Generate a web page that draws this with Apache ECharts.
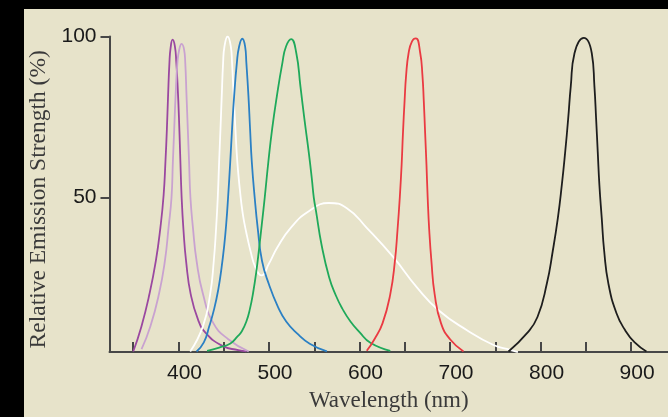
<!DOCTYPE html>
<html><head><meta charset="utf-8">
<script src="https://cdn.jsdelivr.net/npm/echarts@6/dist/echarts.min.js"></script>
<style>html,body{margin:0;padding:0;background:#000;}#c{width:668px;height:417px;}</style>
</head><body><div id="c"></div>
<script>
// Wavelength (nm), relative strength (%)
const darkPurple = [[350,2.2],[359,9.9],[368,20.1],[375,30.3],[380,40.6],[383.6,50.8],[385.6,61.1],[387.2,71.3],[388.5,81.5],[390,91.8],[391.3,96.5],[393.5,99],[396,97],[397.6,92],[399,85],[400.5,75],[401.8,64],[403.5,50],[405.5,40],[408.5,30],[413.5,20],[421.7,12],[430,8],[448,4],[466,2.6],[475,2.2]];
const lightPurple = [[359.2,2.9],[369,10],[378.5,20.1],[385,30.3],[389,40.6],[392.3,50],[393.8,61],[395.3,71.3],[396.8,81.5],[398.8,91.8],[400.8,95.9],[403.5,97.7],[406.2,95.9],[407.5,91.8],[408.9,81.5],[410.3,71.3],[411.7,61.1],[413.2,50],[416,40.6],[420,30.3],[427,20.1],[438.5,11],[455,6],[477.6,2.2]];
const whiteLed = [[413,2.2],[427,10],[435,20],[439,30.3],[441.6,40.6],[443.4,50],[444.9,61],[446.4,71.3],[447.8,81.5],[449.3,91.8],[450.8,96.9],[454.3,100],[457.8,96.9],[459.2,91.8],[461,81.5],[462.9,71.3],[465,61.1],[467.8,52.5],[471,45],[475,39],[479.5,33.5],[485,28.3],[491.8,25.8],[500,29.5],[509,34.4],[524,40.6],[544,45.7],[566,48.3],[586,46.7],[608,40.6],[637.6,31.4],[663.4,22.1],[687.3,15],[718.7,8.8],[748,4.2],[766.4,2.7],[775,2.0]];
const blue = [[420,2.2],[428,5],[434,10],[439.5,15.5],[444,21.5],[447.5,28],[450.5,35],[452.8,42],[454.8,50],[457.2,61.1],[459.2,71.3],[461.5,81.5],[464.5,91.8],[467,96.9],[470.5,99.3],[473.6,96.9],[475,91.8],[477.3,81.5],[479.1,71.3],[481,61.1],[484.2,50],[487.5,40.6],[492.3,30.3],[500,23],[510,16],[519,11.5],[531,7.8],[545,4.6],[564,2.2]];
const green = [[431.6,2.4],[445,3.4],[457.4,4.7],[465,6.8],[470,8.5],[475,11.5],[479,15.5],[482.5,20.5],[486,27],[489,34],[492,41.5],[495.3,50],[499.3,61.1],[503.5,71.3],[508.7,81.5],[514.8,91.8],[518.8,96.9],[524.5,99.2],[530.2,94.8],[534.7,84.6],[539.1,74.4],[543.9,64.1],[547.3,55.9],[549.5,50],[552,45.7],[558,35.4],[566.5,25.2],[574,19.5],[581,15.5],[590,11.5],[600,8.2],[612,4.9],[634,2.4]];
const red = [[608,2.4],[616.5,6],[625.5,11],[634,20],[639,30],[642,40],[644.5,50],[646.5,60],[648,70],[649.8,80],[651.5,88],[654.2,94.8],[658,98.5],[662.3,99.4],[667.1,94.8],[669.5,88],[671,80],[672.5,70],[674,60],[675.3,50],[677,40],[679.5,30],[683,20],[690,11],[700,6],[714.9,2.2]];
const infrared = [[764.6,2.2],[784.8,7.8],[796.6,12.9],[806.9,23.2],[813.5,33.4],[819.1,43.6],[823.5,53.9],[827.2,64.1],[830.5,74.4],[833.4,84.6],[837.5,94.8],[847.8,99.6],[856.6,94.8],[859.5,84.6],[861.4,74.4],[863.2,64.1],[865,53.9],[867.6,43.6],[870.3,33.4],[875,23.2],[884,14],[893,9],[904,5],[917,2.2]];
const xTicks = [350,400,450,500,550,600,650,700,750,800,850,900];
const xLabels = [400,500,600,700,800,900];
const yLabels = [50,100];

const seriesDefs = [
  ['Violet', darkPurple, '#9a48a0'],
  ['Violet 2', lightPurple, '#c9a2d0'],
  ['White', whiteLed, '#ffffff'],
  ['Blue', blue, '#2b80c4'],
  ['Green', green, '#1fa95a'],
  ['Red', red, '#ea3a42'],
  ['Infrared', infrared, '#1e1e1e']
];

const chart = echarts.init(document.getElementById('c'), null, {renderer:'canvas'});
const axisColor = '#474747';
chart.setOption({
  animation: false,
  backgroundColor: '#e7e3ca',
  graphic: [
    {type:'rect', shape:{x:0,y:0,width:668,height:9}, style:{fill:'#000'}, z:100},
    {type:'rect', shape:{x:0,y:0,width:24,height:417}, style:{fill:'#000'}, z:100}
  ],
  grid: {left:109.5, top:36.5, right:0, bottom:61, containLabel:false},
  xAxis: {
    type:'value', min:323.8, max:940.8,
    name:'Wavelength (nm)', nameLocation:'middle', nameGap:33,
    nameTextStyle:{fontFamily:'Liberation Serif', fontSize:23, color:'#3a3a3a'},
    axisLine:{show:true, onZero:false, lineStyle:{color:axisColor, width:2}},
    axisTick:{show:true, inside:true, length:10, customValues:xTicks, lineStyle:{color:axisColor, width:2}},
    axisLabel:{customValues:xLabels, margin:11, fontFamily:'Liberation Sans', fontSize:21, color:'#1a1a1a', padding:[0,0,0,12]},
    splitLine:{show:false}
  },
  yAxis: {
    type:'value', min:2, max:100,
    name:'Relative Emission Strength (%)', nameLocation:'middle', nameGap:47,
    nameTextStyle:{fontFamily:'Liberation Serif', fontSize:23.5, color:'#3a3a3a', padding:[0,10,0,0]},
    axisLine:{show:true, lineStyle:{color:axisColor, width:2}},
    axisTick:{show:true, inside:false, length:9, customValues:yLabels, lineStyle:{color:axisColor, width:2}},
    axisLabel:{customValues:yLabels, margin:13, fontFamily:'Liberation Sans', fontSize:21, color:'#1a1a1a'},
    splitLine:{show:false}
  },
  series: seriesDefs.map(([n, d, c]) => ({
    name:n, type:'line', data:d, showSymbol:false, smooth:0.5,
    lineStyle:{color:c, width:1.8}, itemStyle:{color:c}
  }))
});
</script></body></html>
